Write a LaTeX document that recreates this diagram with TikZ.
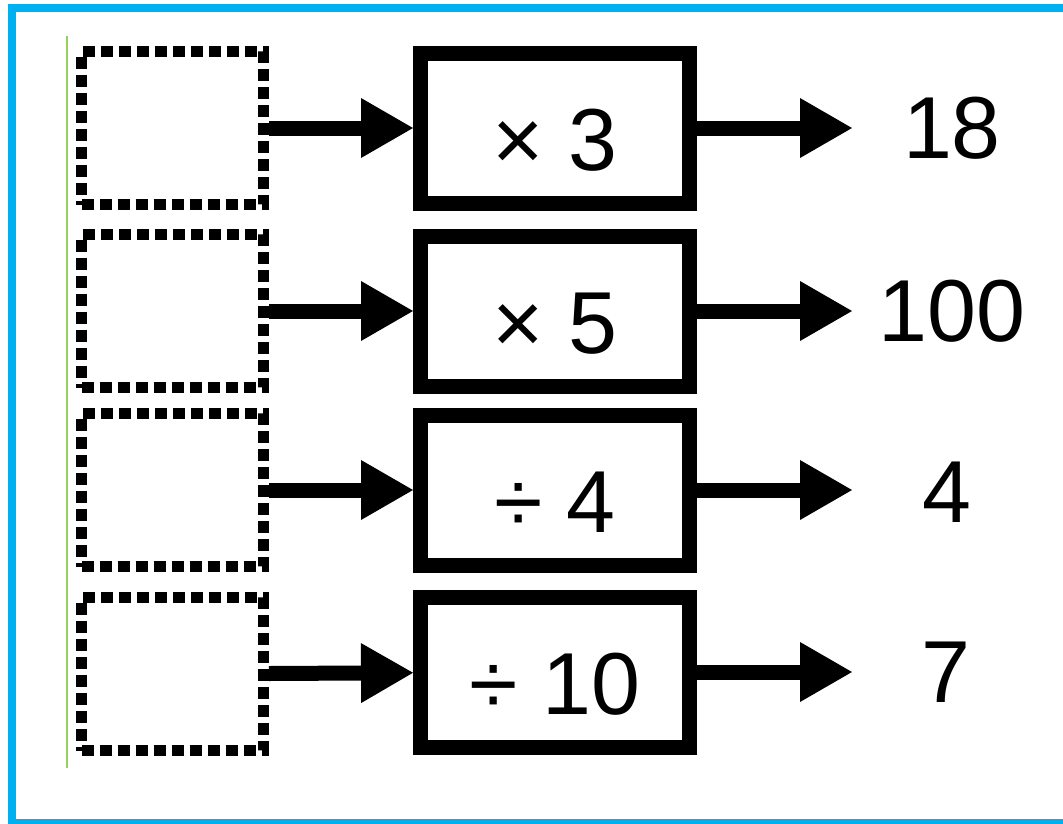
\documentclass[tikz,border=0pt]{standalone}
\usepackage{fontspec}
\setmainfont{Liberation Sans}
\usetikzlibrary{arrows.meta}
\definecolor{frameblue}{RGB}{0,176,240}
\definecolor{rulegreen}{RGB}{150,210,90}

\begin{document}
\begin{tikzpicture}[x = 1pt, y = -1pt]
	\tikzstyle{inStyle} = [shape = rectangle, draw, line width = 11pt, dash pattern = on 12pt off 6pt, minimum width = 182pt, minimum height = 153pt, inner sep = 0pt]
	\tikzstyle{opStyle} = [shape = rectangle, draw, line width = 15pt, minimum width = 269pt, minimum height = 150pt, inner sep = 0pt, text height = 84pt, text depth = 0pt, font = \fontsize{88}{100}\selectfont]
	\tikzstyle{outStyle} = [inner sep = 0pt, font = \fontsize{88}{100}\selectfont]
	\tikzstyle{EdgeStyle} = [line width = 15pt, -{Triangle[length = 52pt, width = 60pt, line width = 0pt]}]
	\clip (0, 0) rectangle (1063, 823);
	\fill[white] (0, 0) rectangle (1063, 823);
	\draw[frameblue, line width = 8pt] (12, 8) rectangle (1075, 823);
	\draw[rulegreen, line width = 1.5pt] (67, 36) -- (67, 768);
	\node[style = inStyle] (in0) at (172.5, 128) {};
	\node[style = inStyle] (in1) at (172.5, 311) {};
	\node[style = inStyle] (in2) at (172.5, 490) {};
	\node[style = inStyle] (in3) at (172.5, 674) {};
	\node[style = opStyle] (op0) at (555, 128) {× 3};
	\node[style = opStyle] (op1) at (555, 311) {× 5};
	\node[style = opStyle] (op2) at (555, 490) {÷ 4};
	\node[style = opStyle] (op3) at (555, 672) {÷ 10};
	\coordinate (t0) at (852, 128);
	\coordinate (t1) at (852, 311);
	\coordinate (t2) at (852, 490);
	\coordinate (t3) at (852, 672);
	\node[style = outStyle] (out0) at (952, 128) {18};
	\node[style = outStyle] (out1) at (952, 311) {100};
	\node[style = outStyle] (out2) at (947, 492) {4};
	\node[style = outStyle] (out3) at (946, 672) {7};
	\draw[style = EdgeStyle] (in0) -- (op0);
	\draw[style = EdgeStyle] (in1) -- (op1);
	\draw[style = EdgeStyle] (in2) -- (op2);
	\draw[style = EdgeStyle] (in3) -- (op3);
	\draw[style = EdgeStyle] (op0) -- (t0);
	\draw[style = EdgeStyle] (op1) -- (t1);
	\draw[style = EdgeStyle] (op2) -- (t2);
	\draw[style = EdgeStyle] (op3) -- (t3);
\end{tikzpicture}
\end{document}
